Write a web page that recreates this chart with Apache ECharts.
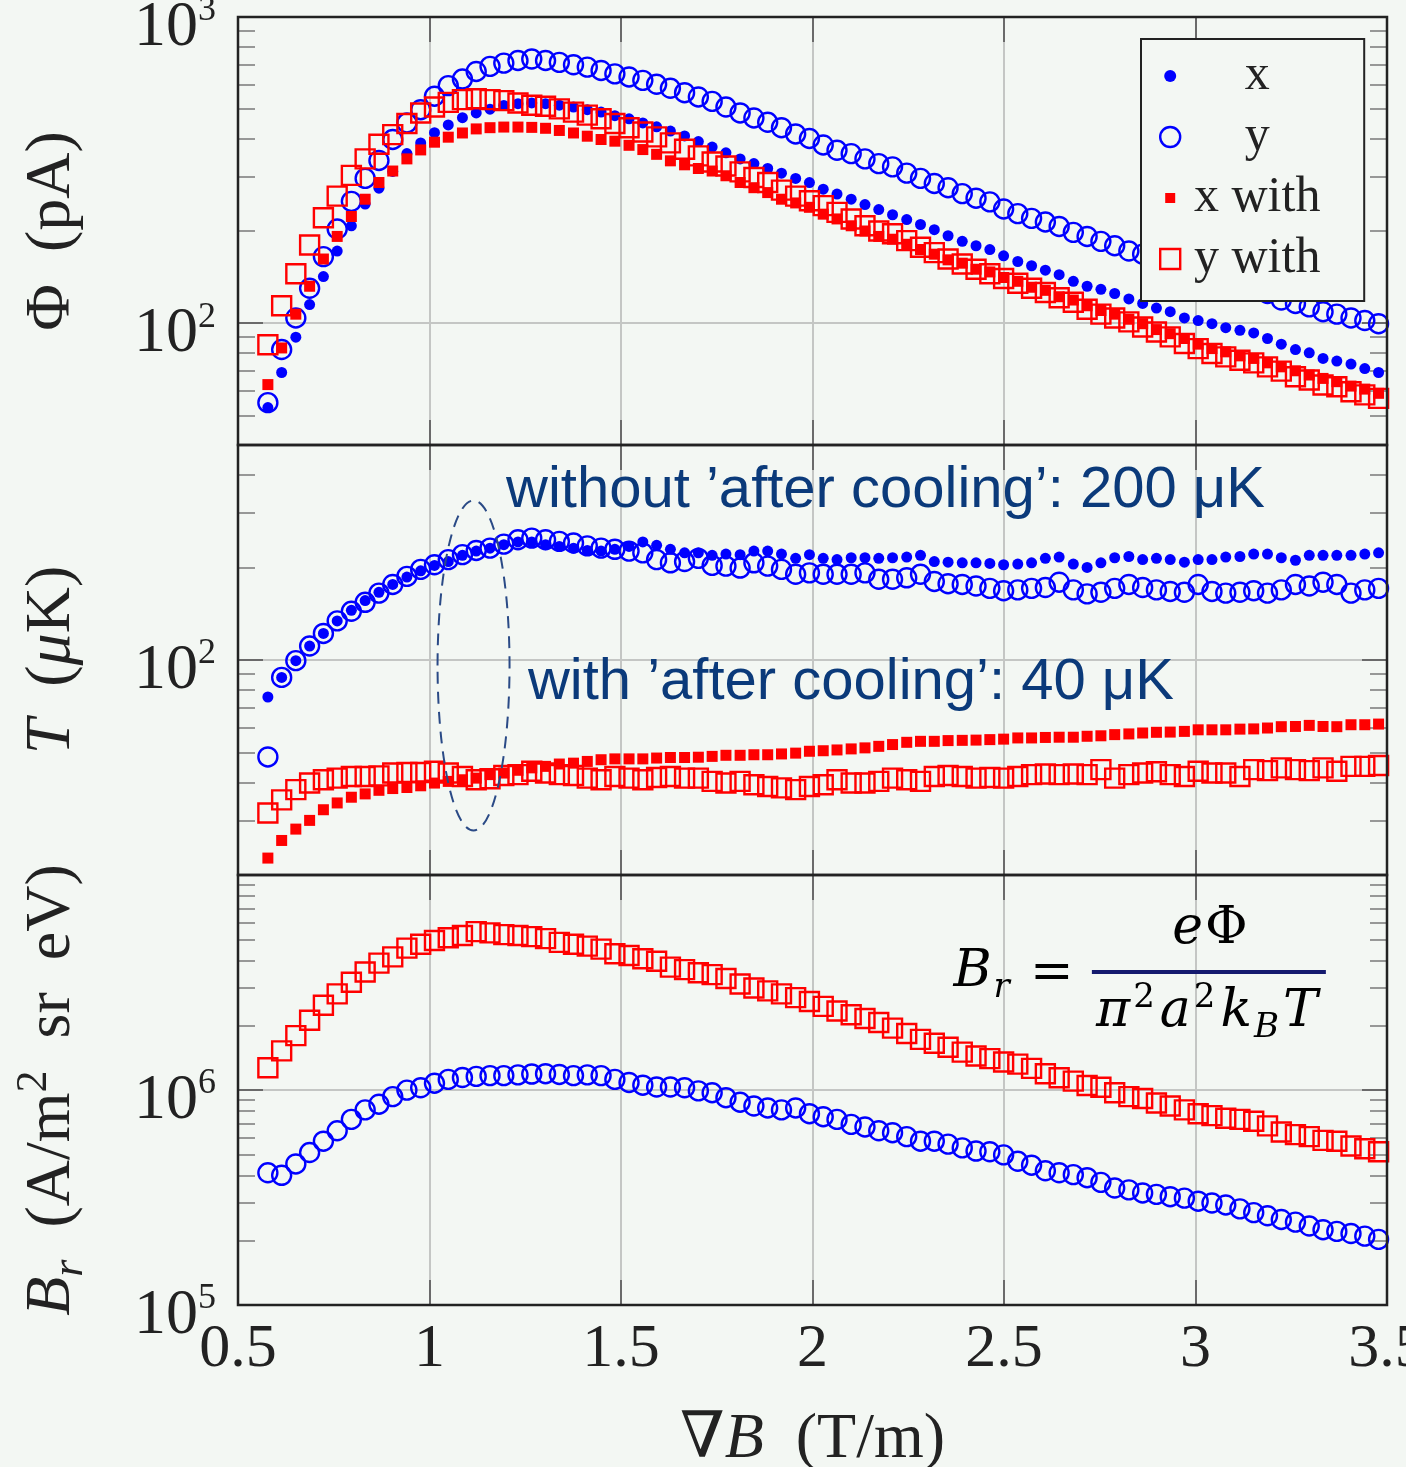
<!DOCTYPE html>
<html>
<head>
<meta charset="utf-8">
<title>Flux, temperature and brightness versus field gradient</title>
<script src="https://cdn.jsdelivr.net/npm/echarts@6/dist/echarts.min.js"></script>
<style>
  html, body { margin: 0; padding: 0; background: #f3f7f3; }
  #main { width: 1406px; height: 1467px; }
</style>
</head>
<body>
<div id="main"></div>
<script>
// field gradient (T/m), one entry per measurement
const gradB = [0.578, 0.614, 0.651, 0.687, 0.723, 0.759, 0.796, 0.832, 0.868, 0.904, 0.941, 0.977, 1.013, 1.049, 1.086, 1.122, 1.158, 1.194, 1.231, 1.267, 1.303, 1.339, 1.376, 1.412, 1.448, 1.484, 1.521, 1.557, 1.593, 1.629, 1.666, 1.702,
  1.738, 1.774, 1.811, 1.847, 1.883, 1.919, 1.956, 1.992, 2.028, 2.064, 2.101, 2.137, 2.173, 2.209, 2.246, 2.282, 2.318, 2.354, 2.391, 2.427, 2.463, 2.499, 2.536, 2.572, 2.608, 2.644, 2.681, 2.717, 2.753, 2.789, 2.826, 2.862, 2.898, 2.934, 2.971, 3.007, 3.043, 3.079, 3.116, 3.152, 3.188, 3.224, 3.261, 3.297, 3.333, 3.369, 3.406, 3.442, 3.478];

// flux Phi (pA)
const phiX = [53, 69, 90, 115, 142, 172, 208, 245, 276, 313, 358, 388, 419, 444, 469, 486, 500, 514, 521, 524, 521, 515, 508, 498, 489, 476, 465, 451, 438, 424, 409, 392,
  376, 360, 344, 332, 320, 309, 297, 288, 274, 264, 254, 244, 235, 226, 218, 210, 202, 193, 185, 179, 174, 166, 159, 154, 149, 144, 137, 132, 129, 125, 120, 116, 112, 109, 104, 102, 99.6, 96.7, 94.8, 92.9, 89.1, 85.4, 82.0, 80.0, 76.7, 75.2, 73.5, 71.1, 69.0];
const phiY = [55, 82, 104, 130, 165, 203, 250, 297, 340, 398, 451, 498, 551, 597, 627, 664, 690, 707, 721, 729, 721, 711, 698, 686, 669, 652, 637, 621, 603, 585, 566, 548,
  530, 508, 486, 468, 453, 435, 415, 401, 382, 367, 358, 344, 332, 324, 309, 297, 286, 277, 265, 256, 249, 236, 228, 220, 214, 207, 198, 192, 185, 179, 172, 168, 163, 158, 153, 148, 143, 139, 134, 130, 125, 119, 116, 113, 109, 107, 104, 102, 99.6];
const phiXWith = [63, 83, 107, 132, 162, 192, 223, 254, 288, 314, 344, 368, 390, 405, 418, 431, 435, 437, 437, 436, 433, 426, 418, 408, 398, 393, 381, 369, 356, 339, 329, 320,
  314, 303, 288, 277, 267, 254, 247, 239, 227, 219, 208, 200, 192, 188, 181, 174, 168, 161, 157, 150, 147, 141, 137, 131, 128, 122, 119, 114, 110, 107, 103, 99.6, 95.3, 92.4, 89.1, 85.4, 82.6, 80.6, 78.2, 76.7, 74.2, 72.0, 69.9, 67.7, 66.0, 64.4, 62.3, 60.9, 59.0];
const phiYWith = [85, 114, 145, 180, 221, 260, 304, 344, 384, 413, 449, 486, 508, 526, 537, 541, 537, 533, 524, 515, 511, 501, 489, 478, 465, 449, 435, 421, 406, 388, 370, 352,
  336, 326, 312, 299, 288, 272, 260, 251, 242, 230, 219, 208, 200, 196, 186, 177, 170, 162, 156, 150, 145, 140, 135, 130, 126, 121, 117, 111, 107, 104, 101, 97.2, 93.6, 90.2, 85.8, 82.6, 79.6, 77.6, 75.7, 74.2, 72.0, 69.7, 66.8, 65.2, 62.8, 62.0, 59.7, 58.3, 56.8];

// temperature T (uK)
const tempX = [75.8, 87.8, 99.5, 111, 122, 134, 145, 156, 166, 176, 186, 195, 203, 209, 219, 226, 231, 237, 242, 242, 237, 234, 231, 227, 226, 229, 234, 242, 236, 229, 223, 223,
  219, 221, 220, 226, 226, 221, 214, 220, 214, 212, 215, 215, 214, 215, 216, 219, 209, 208, 207, 207, 206, 204, 205, 207, 214, 216, 205, 200, 207, 215, 217, 212, 214, 212, 208, 212, 212, 216, 217, 221, 221, 215, 211, 219, 219, 219, 219, 221, 223];
const tempY = [48.4, 87.8, 99.5, 111, 122, 134, 144, 154, 165, 176, 187, 197, 204, 212, 220, 227, 231, 238, 246, 249, 246, 243, 240, 235, 231, 229, 226, 223, 212, 207, 209, 214,
  203, 202, 199, 207, 202, 197, 190, 192, 190, 190, 190, 192, 183, 183, 185, 190, 180, 177, 176, 174, 171, 168, 169, 171, 172, 179, 169, 164, 166, 171, 176, 172, 169, 167, 166, 176, 167, 165, 166, 168, 165, 169, 176, 174, 179, 176, 165, 169, 171];
const tempXWith = [22.7, 25.9, 28.2, 30.1, 32.6, 34.3, 35.8, 36.7, 37.7, 38.2, 38.5, 39.0, 39.8, 40.3, 40.8, 41.3, 42.4, 42.9, 43.8, 44.6, 45.1, 45.9, 46.2, 46.8, 47.4, 47.7, 47.7, 47.7, 48.0, 48.2, 48.2, 48.3,
  48.6, 49.0, 49.0, 49.2, 49.2, 49.5, 49.8, 50.5, 50.7, 51.0, 51.4, 51.8, 52.4, 53.1, 54.0, 54.4, 54.4, 54.7, 54.8, 54.9, 55.1, 55.3, 55.8, 55.8, 56.0, 56.1, 56.1, 56.5, 56.7, 57.2, 57.5, 57.9, 58.2, 58.3, 58.6, 59.3, 59.3, 59.3, 59.6, 59.7, 60.1, 60.7, 60.8, 61.3, 60.8, 60.7, 61.6, 61.6, 61.9];
const tempYWith = [31.8, 35.1, 37.9, 39.8, 40.8, 41.3, 41.8, 41.8, 42.0, 42.9, 43.1, 43.1, 43.5, 42.9, 41.8, 40.8, 41.1, 42.1, 42.4, 43.5, 42.9, 42.4, 42.1, 41.3, 40.8, 41.8, 41.3, 40.8, 41.5, 41.8, 41.3, 41.3,
  40.3, 39.8, 40.3, 39.3, 38.8, 38.4, 37.9, 38.8, 39.3, 40.8, 39.8, 39.8, 40.3, 41.3, 40.8, 40.3, 41.8, 42.1, 41.8, 41.3, 41.5, 41.3, 41.8, 42.4, 42.6, 42.4, 42.6, 42.4, 44.0, 41.3, 42.4, 42.9, 43.3, 42.4, 41.8, 43.5, 42.9, 42.9, 41.8, 44.0, 43.7, 44.6, 44.0, 43.7, 44.6, 43.5, 45.1, 45.1, 45.4];

// brightness B_r (A/m^2 sr eV)
const brightY = [4.12e5, 4.01e5, 4.53e5, 5.12e5, 5.78e5, 6.46e5, 7.30e5, 8.08e5, 8.59e5, 9.32e5, 9.99e5, 1.024e6, 1.075e6, 1.120e6, 1.143e6, 1.157e6, 1.167e6, 1.167e6, 1.176e6, 1.186e6, 1.191e6, 1.181e6, 1.167e6, 1.176e6, 1.167e6, 1.120e6, 1.084e6, 1.053e6, 1.032e6, 1.032e6, 1.024e6, 9.91e5,
  9.71e5, 9.21e5, 8.77e5, 8.42e5, 8.25e5, 8.08e5, 8.25e5, 7.76e5, 7.51e5, 7.30e5, 6.92e5, 6.73e5, 6.46e5, 6.33e5, 6.07e5, 5.78e5, 5.78e5, 5.60e5, 5.38e5, 5.20e5, 5.16e5, 4.99e5, 4.66e5, 4.47e5, 4.21e5, 4.12e5, 4.04e5, 3.91e5, 3.72e5, 3.50e5, 3.43e5, 3.32e5, 3.27e5, 3.19e5, 3.14e5, 3.04e5, 2.98e5, 2.92e5, 2.80e5, 2.69e5, 2.60e5, 2.50e5, 2.43e5, 2.33e5, 2.24e5, 2.20e5, 2.15e5, 2.09e5, 2.02e5];
const brightYWith = [1.27e6, 1.52e6, 1.79e6, 2.11e6, 2.48e6, 2.80e6, 3.17e6, 3.54e6, 3.89e6, 4.16e6, 4.57e6, 4.76e6, 4.96e6, 5.11e6, 5.23e6, 5.45e6, 5.38e6, 5.28e6, 5.23e6, 5.17e6, 5.06e6, 4.86e6, 4.76e6, 4.67e6, 4.52e6, 4.30e6, 4.22e6, 4.08e6, 3.97e6, 3.73e6, 3.63e6, 3.51e6,
  3.44e6, 3.30e6, 3.11e6, 2.98e6, 2.89e6, 2.80e6, 2.69e6, 2.58e6, 2.45e6, 2.33e6, 2.24e6, 2.15e6, 2.06e6, 1.94e6, 1.83e6, 1.72e6, 1.65e6, 1.58e6, 1.50e6, 1.44e6, 1.40e6, 1.35e6, 1.32e6, 1.26e6, 1.19e6, 1.14e6, 1.10e6, 1.05e6, 1.03e6, 9.71e5, 9.32e5, 9.13e5, 8.70e5, 8.42e5, 8.08e5, 7.76e5, 7.60e5, 7.39e5, 7.30e5, 7.15e5, 6.81e5, 6.38e5, 6.20e5, 6.07e5, 5.83e5, 5.78e5, 5.49e5, 5.33e5, 5.16e5];

// labelled decades on each y axis
const phiDecades = [100, 1000];
const tempDecades = [100];
const brightDecades = [1e5, 1e6];
const seriesNames = ['x', 'y', 'x with', 'y with'];

const serif = "'Liberation Serif', 'DejaVu Serif', serif";
const mathFont = "'DejaVu Serif', serif";
const bg = '#f3f7f3';
const ink = '#222';
const blue = '#0000ff';
const red = '#ff0000';
const navy = '#0b3a7a';
const formulaInk = '#141a6e';
const sp = '\u2002'; // wide space, closer to the LaTeX spacing of the original labels

const panels = [
  { top: 17, height: 428, min: 40, max: 1000, decades: phiDecades, name: '{r|Φ' + sp + '(pA)}' },
  { top: 445, height: 430, min: 20, max: 500, decades: tempDecades, name: '{i|T}{r|' + sp + '(}{i|μ}{r|K)}' },
  { top: 875, height: 430, min: 1e5, max: 1e7, decades: brightDecades, name: '{i|B}{sub|r}{r|' + sp + '(A/m}{sup|2}{r|' + sp + 'sr' + sp + 'eV)}' }
];

const tickRich = {
  b: { fontFamily: serif, fontSize: 64, lineHeight: 70, color: ink },
  e: { fontFamily: serif, fontSize: 36, lineHeight: 40, verticalAlign: 'top', color: ink }
};
const nameRich = {
  r: { fontFamily: serif, fontSize: 64, lineHeight: 80, color: ink },
  i: { fontFamily: serif, fontSize: 64, lineHeight: 80, fontStyle: 'italic', color: ink },
  sub: { fontFamily: serif, fontSize: 44, lineHeight: 26, fontStyle: 'italic', verticalAlign: 'bottom', color: ink },
  sup: { fontFamily: serif, fontSize: 44, lineHeight: 36, verticalAlign: 'top', color: ink }
};

function decadeLabel(decades) {
  return function (value) {
    for (const d of decades) {
      if (Math.abs(value / d - 1) < 1e-6) return '{b|10}{e|' + Math.round(Math.log10(d)) + '}';
    }
    return '';
  };
}

const markers = {
  'x': { symbol: 'circle', symbolSize: 11, itemStyle: { color: blue, opacity: 1 } },
  'y': { symbol: 'circle', symbolSize: 19, itemStyle: { color: 'rgba(0,0,0,0)', borderColor: blue, borderWidth: 2.4, opacity: 1 } },
  'x with': { symbol: 'rect', symbolSize: 11, itemStyle: { color: red, opacity: 1 } },
  'y with': { symbol: 'rect', symbolSize: 19, itemStyle: { color: 'rgba(0,0,0,0)', borderColor: red, borderWidth: 2.4, opacity: 1 } }
};
const legendIcons = {
  'x': 'path://M0,0M24,24M12,6A6,6,0,1,1,11.99,6Z',
  'y': 'path://M0,0M24,24M12,2A10,10,0,1,1,11.99,2Z',
  'x with': 'path://M0,0M24,24M7,7L17,7L17,17L7,17Z',
  'y with': 'path://M0,0M24,24M2,2L22,2L22,22L2,22Z'
};

const grids = [], xAxes = [], yAxes = [], series = [];

panels.forEach(function (p, k) {
  grids.push({
    left: 238, width: 1149, top: p.top, height: p.height, z: 5,
    show: true, backgroundColor: 'transparent', borderColor: ink, borderWidth: 2.5,
    containLabel: false, outerBoundsMode: 'none'
  });
  ['bottom', 'top'].forEach(function (side) {
    const labelled = side === 'bottom' && k === 2;
    xAxes.push({
      type: 'value', gridIndex: k, position: side, min: 0.5, max: 3.5, interval: 0.5,
      axisLine: { show: false },
      axisTick: { show: true, inside: true, length: 25, lineStyle: { color: '#6a6a6a', width: 2 } },
      splitLine: { show: side === 'bottom', showMinLine: false, showMaxLine: false, lineStyle: { color: '#c4c6c4', width: 2 } },
      axisLabel: { show: labelled, margin: 14, fontFamily: serif, fontSize: 62, color: ink },
      name: labelled ? '{r|∇}{i|B}{r|' + sp + '(T/m)}' : '',
      nameLocation: 'middle', nameGap: 95, nameMoveOverlap: false,
      nameTextStyle: { rich: nameRich }
    });
  });
  ['left', 'right'].forEach(function (side) {
    const left = side === 'left';
    yAxes.push({
      type: 'log', logBase: 10, gridIndex: k, position: side, min: p.min, max: p.max,
      axisLine: { show: false },
      axisTick: { show: true, inside: true, length: 25, lineStyle: { color: '#6a6a6a', width: 2 } },
      minorTick: { show: true, splitNumber: 9, length: 17, lineStyle: { color: '#7a7a7a', width: 1.5 } },
      splitLine: { show: left, showMinLine: false, showMaxLine: false, lineStyle: { color: '#c4c6c4', width: 2 } },
      axisLabel: { show: left, formatter: decadeLabel(p.decades), margin: 22, padding: [22, 0, 0, 0], rich: tickRich },
      name: left ? p.name : '',
      nameLocation: 'middle', nameRotate: 90, nameGap: 146, nameMoveOverlap: false,
      nameTextStyle: { rich: nameRich }
    });
  });
});

function addSeries(name, k, values) {
  const m = markers[name];
  series.push({
    name: name, type: 'scatter', xAxisIndex: 2 * k, yAxisIndex: 2 * k,
    symbol: m.symbol, symbolSize: m.symbolSize, itemStyle: m.itemStyle,
    emphasis: { disabled: true },
    data: gradB.map(function (x, i) { return [x, values[i]]; })
  });
}

addSeries('x', 0, phiX);
addSeries('y', 0, phiY);
addSeries('x with', 0, phiXWith);
addSeries('y with', 0, phiYWith);
addSeries('x', 1, tempX);
addSeries('y', 1, tempY);
addSeries('x with', 1, tempXWith);
addSeries('y with', 1, tempYWith);
addSeries('y', 2, brightY);
addSeries('y with', 2, brightYWith);

const chart = echarts.init(document.getElementById('main'));
chart.setOption({
  backgroundColor: bg,
  animation: false,
  grid: grids,
  xAxis: xAxes,
  yAxis: yAxes,
  legend: {
    left: 1141, top: 39, orient: 'vertical',
    padding: [12, 37, 17, 16], itemGap: 11, itemWidth: 24, itemHeight: 24,
    backgroundColor: bg, borderColor: ink, borderWidth: 2, borderRadius: 0,
    selectedMode: false,
    formatter: function (n) { return '{t|' + n + '}'; },
    textStyle: {
      fontFamily: serif, fontSize: 50, lineHeight: 48, color: ink,
      rich: { t: { width: 140, align: 'center', fontFamily: serif, fontSize: 50, lineHeight: 48, color: ink } }
    },
    data: seriesNames.map(function (n) {
      return { name: n, icon: legendIcons[n], itemStyle: markers[n].itemStyle };
    })
  },
  series: series
});

// annotations anchored to data coordinates of the middle and bottom panels
const mid = { xAxisIndex: 2, yAxisIndex: 2 };
const bot = { xAxisIndex: 4, yAxisIndex: 4 };
const ring = chart.convertToPixel(mid, [1.115, 96]);
const note1 = chart.convertToPixel(mid, [1.2, 355]);
const note2 = chart.convertToPixel(mid, [1.257, 84]);
const eq = chart.convertToPixel(bot, [2.625, 3.43e6]);

const fr = {
  i: { fontFamily: mathFont, fontSize: 52, lineHeight: 64, fontStyle: 'italic', color: formulaInk, padding: [0, 2, 0, 2] },
  r: { fontFamily: mathFont, fontSize: 52, lineHeight: 64, color: formulaInk },
  s: { fontFamily: mathFont, fontSize: 34, lineHeight: 30, verticalAlign: 'top', color: formulaInk, padding: [0, 3, 0, 1] },
  b: { fontFamily: mathFont, fontSize: 34, lineHeight: 22, fontStyle: 'italic', verticalAlign: 'bottom', color: formulaInk, padding: [0, 2, 0, 0] }
};

chart.setOption({
  graphic: [
    { type: 'ellipse', shape: { cx: ring[0], cy: ring[1], rx: 36, ry: 165 },
      style: { fill: 'none', stroke: '#2a4a86', lineWidth: 2, lineDash: [12, 8] }, z: 10 },
    { type: 'text', x: note1[0], y: note1[1], z: 10,
      style: { text: 'without ’after cooling’: 200 μK', fontFamily: "'Liberation Sans', Arial, sans-serif", fontSize: 58, fill: navy, align: 'left', verticalAlign: 'middle' } },
    { type: 'text', x: note2[0], y: note2[1], z: 10,
      style: { text: 'with ’after cooling’: 40 μK', fontFamily: "'Liberation Sans', Arial, sans-serif", fontSize: 58, fill: navy, align: 'left', verticalAlign: 'middle' } },
    { type: 'text', x: eq[0] - 40, y: eq[1] - 2, z: 10,
      style: { text: '{i|B}{b|r}', rich: fr, align: 'right', verticalAlign: 'middle' } },
    { type: 'text', x: eq[0], y: eq[1], z: 10,
      style: { text: '{r|=}', rich: fr, align: 'center', verticalAlign: 'middle' } },
    { type: 'line', z: 10, shape: { x1: eq[0] + 40, y1: eq[1] - 3, x2: eq[0] + 274, y2: eq[1] - 3 },
      style: { stroke: formulaInk, lineWidth: 4 } },
    { type: 'text', x: eq[0] + 157, y: eq[1] - 45, z: 10,
      style: { text: '{i|e}{r|Φ}', rich: fr, align: 'center', verticalAlign: 'middle' } },
    { type: 'text', x: eq[0] + 155, y: eq[1] + 38, z: 10,
      style: { text: '{i|π}{s|2}{i|a}{s|2}{i|k}{b|B}{i|T}', rich: fr, align: 'center', verticalAlign: 'middle' } }
  ]
});
</script>
</body>
</html>
